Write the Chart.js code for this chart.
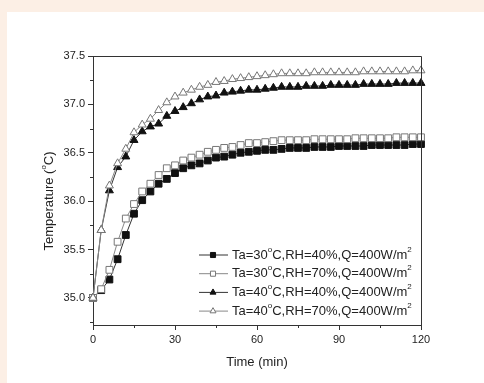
<!DOCTYPE html>
<html lang="en">
  <head>
    <meta charset="UTF-8" />
    <title>Temperature vs time</title>
    <style>
      body {
        margin: 0;
        background: #fcefe5;
      }
      #wrap {
        width: 484px;
        height: 383px;
      }
    </style>
  </head>
  <body>
    <div id="wrap"><canvas id="myChart" width="484" height="383"></canvas></div>
    <script src="https://cdn.jsdelivr.net/npm/chart.js@4.4.1/dist/chart.umd.min.js"></script>
    <script>
      // time in minutes, one point every 3 min
      const times = [
        0, 3, 6, 9, 12, 15, 18, 21, 24, 27, 30, 33, 36, 39, 42, 45, 48, 51, 54, 57, 60,
        63, 66, 69, 72, 75, 78, 81, 84, 87, 90, 93, 96, 99, 102, 105, 108, 111, 114, 117, 120,
      ];
      const t30rh40 = [
        35.0, 35.08, 35.19, 35.4, 35.65, 35.87, 36.01, 36.1, 36.18, 36.23, 36.29, 36.34, 36.37,
        36.39, 36.42, 36.45, 36.46, 36.48, 36.5, 36.51, 36.52, 36.53, 36.53, 36.54, 36.55, 36.55,
        36.55, 36.56, 36.56, 36.56, 36.57, 36.57, 36.57, 36.57, 36.58, 36.58, 36.58, 36.58, 36.58,
        36.59, 36.59,
      ];
      const t30rh70 = [
        35.0, 35.09, 35.29, 35.58, 35.82, 35.97, 36.1, 36.18, 36.27, 36.34, 36.37, 36.42, 36.45,
        36.48, 36.51, 36.53, 36.55, 36.56, 36.58, 36.6, 36.6, 36.61, 36.62, 36.63, 36.63, 36.63,
        36.63, 36.64, 36.64, 36.64, 36.64, 36.64, 36.65, 36.65, 36.65, 36.65, 36.65, 36.66, 36.66,
        36.66, 36.66,
      ];
      const t40rh40 = [
        35.0, 35.7, 36.11, 36.35, 36.46, 36.63, 36.72, 36.77, 36.8, 36.88, 36.93, 36.97, 37.01,
        37.05, 37.08, 37.09, 37.12, 37.13, 37.14, 37.15, 37.15, 37.16, 37.17, 37.18, 37.18, 37.18,
        37.19, 37.19, 37.19, 37.2, 37.2, 37.2, 37.2, 37.21, 37.21, 37.21, 37.21, 37.22, 37.22,
        37.22, 37.22,
      ];
      const t40rh70 = [
        35.0, 35.7, 36.16, 36.39, 36.54, 36.71, 36.79, 36.85, 36.94, 37.02, 37.08, 37.12, 37.15,
        37.18, 37.2, 37.23, 37.24, 37.26, 37.27, 37.28, 37.29, 37.3, 37.31, 37.32, 37.32, 37.32,
        37.32, 37.33, 37.33, 37.33, 37.33, 37.33, 37.33, 37.34, 37.34, 37.34, 37.34, 37.34, 37.34,
        37.35, 37.35,
      ];
      const yTicks = [35.0, 35.5, 36.0, 36.5, 37.0, 37.5];
      const xTicks = [0, 30, 60, 90, 120];
      const legendTa = ["30", "30", "40", "40"];
      const legendRH = ["40", "70", "40", "70"];

      const axisColor = "#333";
      const font = "Arial, 'Liberation Sans', sans-serif";

      function pts(vals) {
        return vals.map((v, i) => ({ x: times[i], y: v }));
      }

      const series = [
        { data: t30rh40, style: "rect", fill: "#111", stroke: "#111", line: "#333", r: 4.8 },
        { data: t30rh70, style: "rect", fill: "#fff", stroke: "#777", line: "#888", r: 4.8 },
        { data: t40rh40, style: "triangle", fill: "#111", stroke: "#111", line: "#333", r: 4.6 },
        { data: t40rh70, style: "triangle", fill: "#fff", stroke: "#777", line: "#888", r: 4.6 },
      ];

      // text with superscripts: parts = [[text, isSup], ...]
      function drawRich(ctx, parts, x, y, size) {
        let cx = x;
        parts.forEach(([txt, sup]) => {
          const s = sup ? Math.round(size * 0.62) : size;
          ctx.font = s + "px " + font;
          ctx.fillText(txt, cx, sup ? y - size * 0.42 : y);
          cx += ctx.measureText(txt).width;
        });
        return cx - x;
      }
      function richWidth(ctx, parts, size) {
        let w = 0;
        parts.forEach(([txt, sup]) => {
          const s = sup ? Math.round(size * 0.62) : size;
          ctx.font = s + "px " + font;
          w += ctx.measureText(txt).width;
        });
        return w;
      }

      const decor = {
        id: "decor",
        beforeDraw(chart) {
          const ctx = chart.ctx;
          ctx.save();
          ctx.fillStyle = "#fcefe5";
          ctx.fillRect(0, 0, chart.width, chart.height);
          ctx.fillStyle = "#ffffff";
          ctx.fillRect(7, 12, chart.width - 7, chart.height - 12);
          ctx.restore();
        },
        afterDraw(chart) {
          const ctx = chart.ctx;
          const a = chart.chartArea;
          const xs = chart.scales.x;
          const ys = chart.scales.y;
          ctx.save();
          // frame top / right
          ctx.strokeStyle = axisColor;
          ctx.lineWidth = 1;
          ctx.beginPath();
          ctx.moveTo(a.left, a.top + 0.5);
          ctx.lineTo(a.right + 0.5, a.top + 0.5);
          ctx.lineTo(a.right + 0.5, a.bottom);
          ctx.stroke();
          // minor ticks
          ctx.beginPath();
          [34.75, 35.25, 35.75, 36.25, 36.75, 37.25].forEach((v) => {
            const py = Math.round(ys.getPixelForValue(v)) + 0.5;
            ctx.moveTo(a.left - 3, py);
            ctx.lineTo(a.left, py);
          });
          [15, 45, 75, 105].forEach((v) => {
            const px = Math.round(xs.getPixelForValue(v)) + 0.5;
            ctx.moveTo(px, a.bottom);
            ctx.lineTo(px, a.bottom + 3);
          });
          ctx.stroke();

          // axis titles
          ctx.fillStyle = "#222";
          ctx.textBaseline = "middle";
          const xt = [["Time (min)", false]];
          const xw = richWidth(ctx, xt, 13);
          drawRich(ctx, xt, (a.left + a.right) / 2 - xw / 2, 362, 13);
          const yt = [["Temperature (", false], ["o", true], ["C)", false]];
          const yw = richWidth(ctx, yt, 13);
          ctx.save();
          ctx.translate(49, 201);
          ctx.rotate(-Math.PI / 2);
          drawRich(ctx, yt, -yw / 2, 0, 13);
          ctx.restore();

          // legend
          series.forEach((s, i) => {
            const ly = 255 + i * 18.7;
            ctx.strokeStyle = s.line;
            ctx.lineWidth = 1;
            ctx.beginPath();
            ctx.moveTo(199, ly);
            ctx.lineTo(228, ly);
            ctx.stroke();
            ctx.fillStyle = s.fill;
            ctx.strokeStyle = s.stroke;
            Chart.helpers.drawPoint(
              ctx,
              { pointStyle: s.style, radius: s.r * 0.75, borderWidth: 1 },
              213,
              ly
            );
            ctx.fillStyle = "#222";
            drawRich(
              ctx,
              [
                ["Ta=" + legendTa[i], false],
                ["o", true],
                ["C,RH=" + legendRH[i] + "%,Q=400W/m", false],
                ["2", true],
              ],
              232,
              ly,
              13
            );
          });
          ctx.restore();
        },
      };

      const ctx = document.getElementById("myChart").getContext("2d");
      new Chart(ctx, {
        type: "line",
        data: {
          datasets: series.map((s, i) => ({
            data: pts(s.data),
            order: series.length - i, // later series on top, like the original
            borderColor: s.line,
            borderWidth: 1,
            pointStyle: s.style,
            pointRadius: s.r,
            pointBackgroundColor: s.fill,
            pointBorderColor: s.stroke,
            pointBorderWidth: 1,
            tension: 0,
            clip: false,
          })),
        },
        options: {
          responsive: false,
          animation: false,
          events: [],
          layout: {
            padding: { top: 56, right: 63, bottom: 0, left: 0 },
          },
          scales: {
            x: {
              type: "linear",
              min: 0,
              max: 120,
              afterFit: (scale) => {
                scale.height = 58;
              },
              afterBuildTicks: (scale) => {
                scale.ticks = xTicks.map((v) => ({ value: v }));
              },
              border: { display: true, color: axisColor, width: 1 },
              grid: {
                drawOnChartArea: false,
                drawTicks: true,
                tickLength: 5,
                color: axisColor,
              },
              ticks: {
                color: "#222",
                padding: 3,
                maxRotation: 0,
                font: { size: 11, family: font },
              },
            },
            y: {
              min: 34.72,
              max: 37.5,
              afterFit: (scale) => {
                scale.width = 93;
              },
              afterBuildTicks: (scale) => {
                scale.ticks = yTicks.map((v) => ({ value: v }));
              },
              border: { display: true, color: axisColor, width: 1 },
              grid: {
                drawOnChartArea: false,
                drawTicks: true,
                tickLength: 5,
                color: axisColor,
              },
              ticks: {
                color: "#222",
                padding: 3,
                font: { size: 11, family: font },
                callback: (v) => Number(v).toFixed(1),
              },
            },
          },
          plugins: {
            legend: { display: false },
            tooltip: { enabled: false },
          },
        },
        plugins: [decor],
      });
    </script>
  </body>
</html>
